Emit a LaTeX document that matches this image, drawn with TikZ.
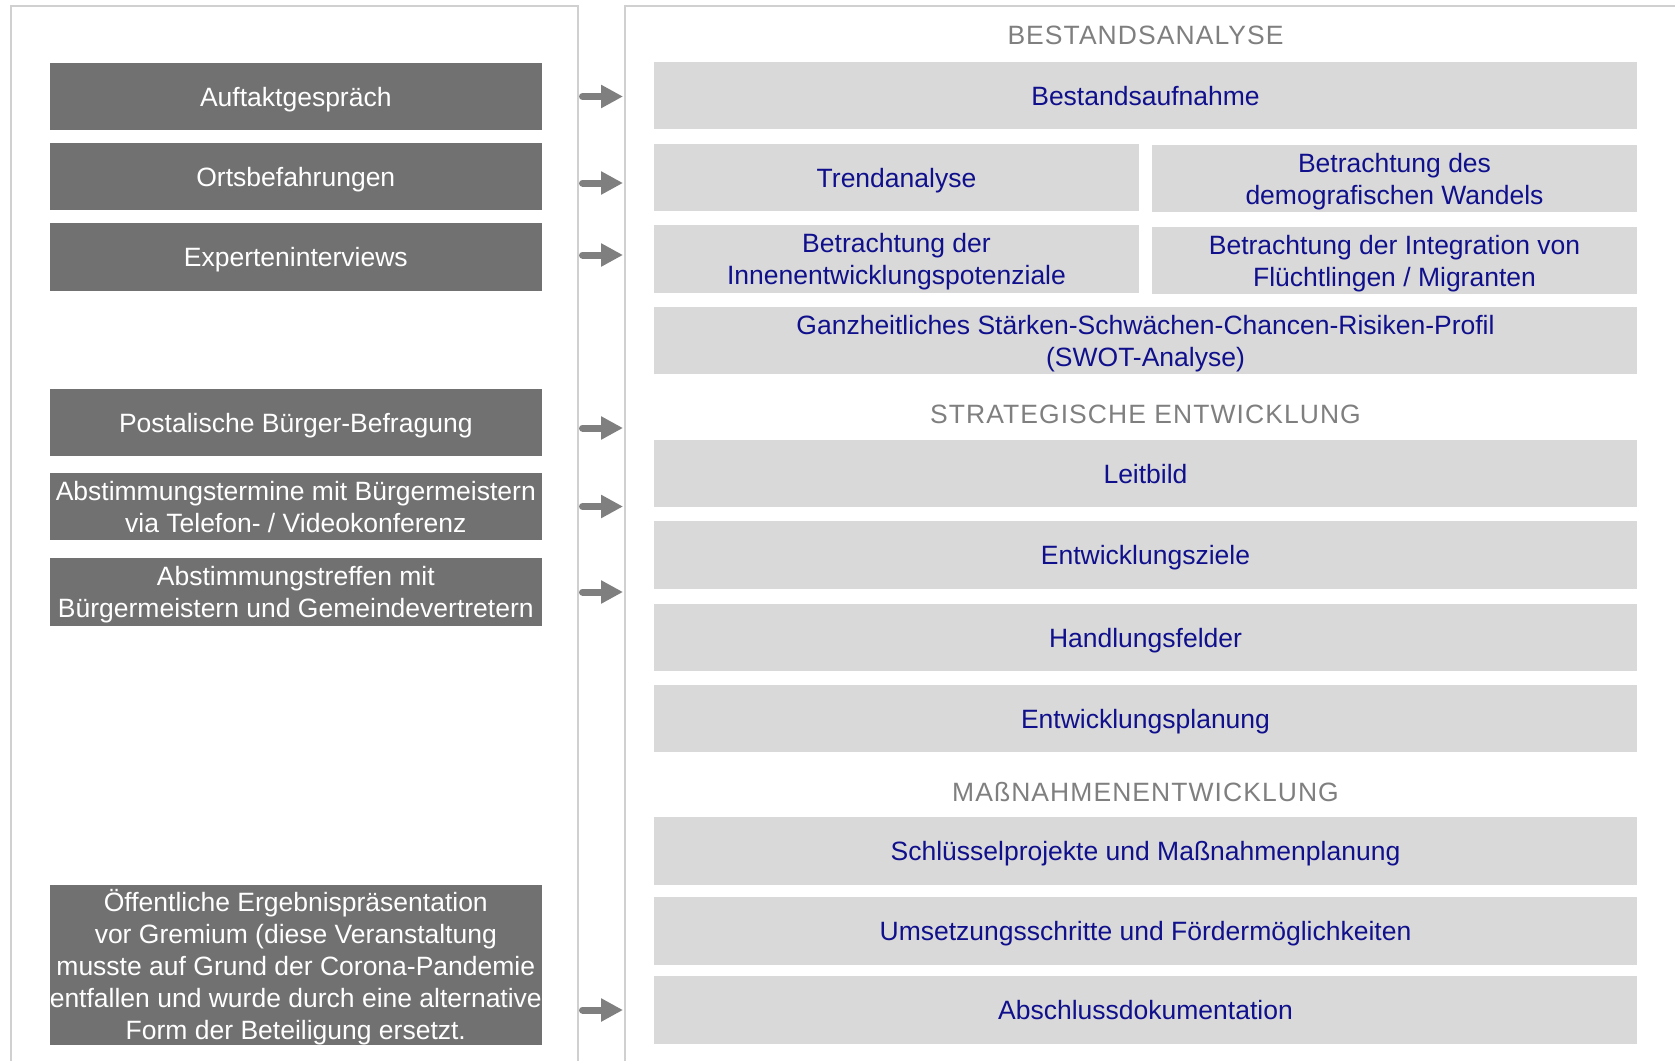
\documentclass[tikz,border=0pt]{standalone}
\usepackage{fontspec}
\setmainfont{Liberation Sans}
\usepackage{tikz}
\usetikzlibrary{arrows.meta}
\definecolor{dunkelgrau}{HTML}{717171}
\definecolor{hellgrau}{HTML}{D9D9D9}
\definecolor{rahmengrau}{HTML}{D0D0D0}
\definecolor{kopfgrau}{HTML}{7F7F7F}
\definecolor{schrift}{RGB}{16,16,140}
\tikzset{
    every node/.style={inner sep=0pt, align=center, text depth=0pt,
    	font=\fontsize{26.5}{32}\selectfont}
}
\tikzset{
    dunkel/.style={rectangle, fill=dunkelgrau, text=white,
    	minimum width=491.6pt, minimum height=67.5pt},
    hell/.style={rectangle, fill=hellgrau, text=schrift,
    	minimum width=983pt, minimum height=67.5pt},
    halb/.style={hell, minimum width=485pt},
    kopf/.style={text=kopfgrau,
    	font=\fontsize{26.5}{32}\selectfont\addfontfeature{LetterSpace=4}},
    rahmen/.style={draw=rahmengrau, line width=2pt},
    pfeil/.style={draw=kopfgrau, line width=7pt, line cap=round,
    	-{Triangle[length=22pt, width=22pt]}}
}

\begin{document}
\begin{tikzpicture}[x=1pt, y=-1pt]
  \useasboundingbox (0,0) rectangle (1675,1060);
  \draw[rahmen] (10.7,1061) -- (10.7,6) -- (578,6) -- (578,1061);
  \draw[rahmen] (624.5,1061) -- (624.5,6) -- (1676,6);
  \coordinate (links) at (582.5,0);
  \coordinate (rechts) at (623,0);

  \node (auftakt) [dunkel] at (295.8, 96.5) {Auftaktgespräch};
  \node (orts) [dunkel] at (295.8, 176.5) {Ortsbefahrungen};
  \node (experten) [dunkel] at (295.8, 257) {Experteninterviews};
  \node (befragung) [dunkel] at (295.8, 422.5) {Postalische Bürger-Befragung};
  \node (termine) [dunkel] at (295.8, 506.5)
  	{Abstimmungstermine mit Bürgermeistern\\via Telefon- / Videokonferenz};
  \node (treffen) [dunkel] at (295.8, 592)
  	{Abstimmungstreffen mit\\Bürgermeistern und Gemeindevertretern};
  \node (praesentation) [dunkel, minimum height=160pt, text depth=1.5pt] at (295.8, 965)
  	{Öffentliche Ergebnispräsentation\\vor Gremium (diese Veranstaltung\\musste auf Grund der Corona-Pandemie\\entfallen und wurde durch eine alternative\\Form der Beteiligung ersetzt.};

  \node (kopf1) [kopf] at (1145.5, 35) {BESTANDSANALYSE};
  \node (bestand) [hell] at (1145.5, 95.5) {Bestandsaufnahme};
  \node (trend) [halb] at (896.5, 177.5) {Trendanalyse};
  \node (demografie) [halb] at (1394.5, 178.5) {Betrachtung des\\demografischen Wandels};
  \node (innen) [halb] at (896.5, 259) {Betrachtung der\\Innenentwicklungspotenziale};
  \node (integration) [halb] at (1394.5, 260.5) {Betrachtung der Integration von\\Flüchtlingen / Migranten};
  \node (swot) [hell] at (1145.5, 340.5) {Ganzheitliches Stärken-Schwächen-Chancen-Risiken-Profil\\(SWOT-Analyse)};
  \node (kopf2) [kopf] at (1145.5, 414) {STRATEGISCHE ENTWICKLUNG};
  \node (leitbild) [hell] at (1145.5, 473.5) {Leitbild};
  \node (ziele) [hell] at (1145.5, 555) {Entwicklungsziele};
  \node (felder) [hell] at (1145.5, 637.5) {Handlungsfelder};
  \node (planung) [hell] at (1145.5, 718.5) {Entwicklungsplanung};
  \node (kopf3) [kopf] at (1145.5, 792) {MAßNAHMENENTWICKLUNG};
  \node (projekte) [hell] at (1145.5, 851) {Schlüsselprojekte und Maßnahmenplanung};
  \node (umsetzung) [hell] at (1145.5, 931) {Umsetzungsschritte und Fördermöglichkeiten};
  \node (abschluss) [hell] at (1145.5, 1010) {Abschlussdokumentation};

  \draw[pfeil] (auftakt.east -| links) -- (auftakt.east -| rechts);
  \draw[pfeil] ([yshift=-6.5pt]orts.east -| links) -- ([yshift=-6.5pt]orts.east -| rechts);
  \draw[pfeil] ([yshift=2pt]experten.east -| links) -- ([yshift=2pt]experten.east -| rechts);
  \draw[pfeil] ([yshift=-5.5pt]befragung.east -| links) -- ([yshift=-5.5pt]befragung.east -| rechts);
  \draw[pfeil] (termine.east -| links) -- (termine.east -| rechts);
  \draw[pfeil] (treffen.east -| links) -- (treffen.east -| rechts);
  \draw[pfeil] (abschluss.west -| links) -- (abschluss.west -| rechts);
\end{tikzpicture}
\end{document}
